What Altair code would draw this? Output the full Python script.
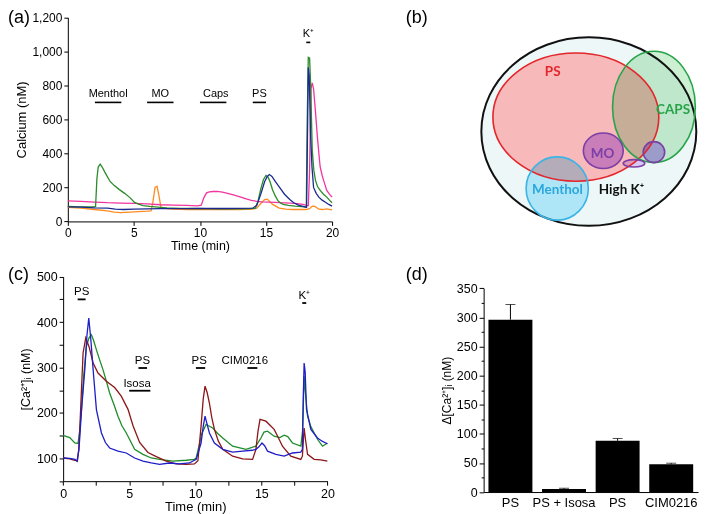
import altair as alt
import pandas as pd

# ---------------- Panel (a): calcium traces ----------------
a_t_green = [0, 0.5, 1.0, 1.5, 2.0, 2.1, 2.2, 2.3, 2.45, 2.6, 2.8, 3.0, 3.2, 3.5, 3.9, 4.3, 4.7, 5.05, 5.4, 5.7,
             6.2, 6.8, 7.5, 8.5, 9.5, 10.5, 11.5, 12.5, 13.5, 14.2, 14.4, 14.6, 14.8, 15.0, 15.15, 15.3, 15.5, 15.7,
             15.9, 16.1, 16.3, 16.7, 17.2, 17.7, 18.05, 18.12, 18.2, 18.3, 18.38, 18.5, 18.62, 18.75, 18.9, 19.1,
             19.35, 19.6, 19.8, 20.0]
a_v_green = [88, 87, 86, 86, 85, 88, 250, 320, 337, 320, 290, 262, 235, 212, 187, 165, 140, 112, 100, 93,
             88, 84, 80, 77, 76, 75, 74, 74, 74, 78, 120, 190, 245, 270, 262, 235, 185, 150,
             122, 108, 100, 94, 90, 87, 85, 600, 965, 960, 800, 420, 300, 240, 205, 182,
             160, 143, 125, 110]

a_t_blue = [0, 1, 2, 3, 3.6, 4.2, 5, 6, 7, 8, 9, 10, 11, 12, 13, 14.0, 14.3, 14.6, 14.9, 15.1, 15.25, 15.45,
            15.7, 16.0, 16.4, 16.8, 17.1, 17.45, 17.8, 18.07, 18.14, 18.2, 18.27, 18.37, 18.48, 18.6, 18.8, 19.0,
            19.25, 19.5, 19.75, 20.0]
a_v_blue = [86, 84, 80, 78, 72, 70, 72, 74, 75, 75, 75, 76, 76, 76, 77, 78, 95, 160, 235, 265, 276, 265,
            235, 203, 160, 129, 110, 96, 88, 82, 500, 906, 860, 515, 320, 200, 165, 143,
            125, 113, 100, 90]

a_t_pink = [0, 1, 2, 3, 4, 5, 6, 7, 8, 9, 9.8, 10.1, 10.3, 10.5, 10.7, 11.0, 11.3, 11.7, 12.1, 12.6, 13.15,
            13.5, 13.9, 14.3, 14.7, 15.2, 15.7, 16.4, 17.2, 17.8, 18.2, 18.3, 18.4, 18.5, 18.6, 18.75, 18.87,
            19.0, 19.1, 19.25, 19.4, 19.6, 19.8, 20.0]
a_v_pink = [121, 118, 114, 110, 108, 106, 103, 98, 96, 94, 92, 95, 140, 168, 174, 176, 177, 172, 165, 155, 141,
            132, 124, 118, 115, 114, 112, 109, 106, 100, 92, 300, 780, 815, 780, 640, 515,
            400, 320, 270, 231, 182, 160, 143]

a_t_orange = [0, 1, 2, 3, 3.5, 4, 5, 6, 6.3, 6.45, 6.6, 6.75, 6.9, 7.05, 7.5, 8, 9, 10, 11, 12, 13, 14, 14.3,
              14.6, 14.9, 15.1, 15.5, 16, 16.5, 17, 18, 18.3, 18.5, 18.7, 19.0, 19.3, 19.6, 20.0]
a_v_orange = [82, 78, 70, 62, 55, 52, 56, 60, 62, 120, 200, 207, 150, 82, 75, 72, 70, 70, 70, 70, 70, 72, 78,
              105, 128, 131, 100, 78, 72, 70, 70, 75, 90, 88, 72, 70, 74, 68]

a_stim_names = ["Menthol", "MO", "Caps", "PS", "K⁺"]
a_stim_start = [2.05, 6.0, 10.0, 14.0, 18.05]
a_stim_end = [4.05, 8.0, 12.0, 15.0, 18.35]
a_stim_label_t = [3.05, 7.0, 11.2, 14.5, 18.2]
a_stim_level = [700, 700, 700, 700, 1053]

# ---------------- Panel (b): Venn diagram ----------------
venn_sets = ["High K⁺", "PS", "Menthol", "CAPS", "MO", "MO link", "MO small"]
venn_cx = [0.0, -13.0, -31.7, 65.3, 14.5, 45.3, 65.3]
venn_cy = [0.0, 14.5, -57.1, 24.7, -19.3, -31.8, -20.6]
venn_rx = [107.8, 83.2, 31.2, 41.5, 20.0, 10.8, 10.8]
venn_ry = [94.5, 64.3, 31.7, 55.8, 17.8, 3.7, 10.5]

venn_labels = ["PS", "CAPS", "MO", "Menthol", "High K⁺"]
venn_label_x = [-36.2, 84.5, 13.8, -31.5, 32.8]
venn_label_y = [59.5, 21.2, -22.8, -58.8, -58.8]

# ---------------- Panel (c): calcium traces ----------------
c_t_blue = [0, 0.5, 0.9, 1.05, 1.2, 1.4, 1.64, 1.8, 1.94, 2.1, 2.27, 2.52, 2.9, 3.2, 3.52, 4.15, 4.78, 5.41,
            6.04, 6.67, 7.3, 8.05, 8.8, 9.56, 10.07, 10.44, 10.6, 10.74, 10.9, 11.07, 11.45, 12.08, 12.83, 13.59,
            14.3, 14.59, 14.8, 15.05, 15.25, 15.47, 16.1, 16.73, 17.36, 17.99, 18.11, 18.18, 18.24, 18.32, 18.42,
            18.75, 19.25, 19.6, 19.88, 20.0]
c_v_blue = [101, 100, 98, 94, 120, 210, 295, 370, 409, 360, 295, 207, 156, 135, 123, 116, 112, 101,
            94, 90, 87, 90, 88, 90, 98, 134, 170, 193, 175, 156, 134, 120, 114, 116,
            118, 120, 125, 134, 128, 116, 109, 105, 112, 114, 120, 240, 310, 290, 208,
            164, 145, 138, 134, 132]

c_t_green = [0, 0.5, 0.88, 1.13, 1.25, 1.39, 1.55, 1.76, 1.95, 2.14, 2.3, 2.52, 2.75, 3.02, 3.27, 3.52, 3.85,
             4.15, 4.45, 4.78, 5.1, 5.41, 6.04, 6.67, 7.3, 8.3, 9.31, 9.94, 10.07, 10.3, 10.5, 10.82, 11.0,
             11.32, 11.7, 12.08, 12.83, 13.84, 14.59, 14.97, 15.2, 15.47, 15.97, 16.4, 16.73, 17.0, 17.36,
             17.99, 18.12, 18.24, 18.32, 18.5, 18.75, 19.0, 19.3, 19.63, 20.0]
c_v_green = [151, 146, 134, 133, 160, 207, 280, 346, 365, 372, 360, 339, 318, 295, 270, 244, 218,
             193, 172, 156, 138, 120, 109, 101, 98, 94, 96, 98, 101, 130, 155, 175, 172,
             167, 155, 145, 127, 120, 127, 145, 158, 160, 149, 146, 151, 148, 134,
             127, 160, 281, 250, 193, 170, 156, 140, 127, 134]

c_t_red = [0, 0.5, 0.88, 1.08, 1.18, 1.26, 1.4, 1.51, 1.71, 1.96, 2.27, 2.64, 3.27, 3.9, 4.4, 4.91, 5.29, 5.79,
           6.42, 7.05, 7.8, 8.55, 9.31, 9.94, 10.2, 10.44, 10.6, 10.74, 10.9, 11.07, 11.25, 11.45, 11.75, 12.08,
           12.83, 13.59, 14.34, 14.59, 14.75, 14.9, 15.35, 15.97, 16.3, 16.6, 17.23, 17.99, 18.11, 18.24, 18.35,
           18.5, 19.0, 19.5, 20.0]
c_v_red = [101, 99, 96, 94, 120, 164, 260, 332, 365, 346, 310, 288, 270, 256, 237, 208, 172, 135,
           113, 104, 94, 88, 87, 88, 95, 171, 230, 259, 245, 222, 190, 164, 138, 120,
           105, 99, 98, 120, 160, 186, 182, 164, 145, 127, 105, 98, 105, 167, 140,
           109, 98, 97, 94]

c_stim_names = ["PS", "PS", "Isosa", "PS", "CIM0216", "K⁺"]
c_stim_start = [1.1, 5.7, 5.0, 10.05, 13.95, 18.1]
c_stim_end = [1.7, 6.35, 6.6, 10.75, 14.7, 18.4]
c_stim_label_t = [1.4, 6.0, 5.6, 10.3, 13.75, 18.25]
c_stim_level = [450, 299, 249, 299, 299, 442]

# ---------------- Panel (d): bar chart ----------------
d_keys = ["PS (1)", "PS + Isosa", "PS (2)", "CIM0216"]
d_vals = [296, 5, 88, 47.5]
d_errs = [26, 1.5, 4, 2]

# ================= chart construction =================
W, H = 690, 490
FONT = "Liberation Sans"


def df_tv(t, v):
    return pd.DataFrame({"t": t, "v": v})


def lin(domain, rng):
    return alt.Scale(domain=domain, range=rng, nice=False, zero=False)


layers = []

# ----- (b) Venn (drawn first, at the back)
def ellipse_path(k):
    c = 0.5523
    return (f"M 1 0 C 1 {c*k:.4f} {c} {k:.4f} 0 {k:.4f} C {-c} {k:.4f} -1 {c*k:.4f} -1 0 "
            f"C -1 {-c*k:.4f} {-c} {-k:.4f} 0 {-k:.4f} C {c} {-k:.4f} 1 {-c*k:.4f} 1 0 Z")


venn = pd.DataFrame({"set": venn_sets, "cx": venn_cx, "cy": venn_cy, "rx": venn_rx, "ry": venn_ry})
venn["path"] = [ellipse_path(ry / rx) for rx, ry in zip(venn.rx, venn.ry)]
venn["sz"] = (2 * venn.rx) ** 2

V_XD, V_XR = [-120, 120], [462.5, 702.5]
V_YD, V_YR = [-110, 110], [233.2, 13.2]


def venn_enc():
    return dict(
        x=alt.X("cx:Q", scale=lin(V_XD, V_XR), axis=None),
        y=alt.Y("cy:Q", scale=lin(V_YD, V_YR), axis=None),
        shape=alt.Shape("path:N", scale=None),
        size=alt.Size("sz:Q", scale=None),
    )


fill_range = ["#eef7f7", "#f7b9b9", "#bbedff", "#cdefd2", "#d0acff", "#e6d2ff", "#d0acff"]
stroke_range = ["#111111", "#e3262b", "#3ab4e6", "#27a44a", "#7b3fa6", "#7b3fa6", "#7b3fa6"]

normal_sets = ["High K⁺", "PS"]
mult_sets = ["Menthol", "CAPS", "MO", "MO link", "MO small"]

layers.append(alt.Chart(venn).transform_filter(alt.FieldOneOfPredicate(field="set", oneOf=normal_sets)).mark_point(
    filled=True, opacity=1, strokeOpacity=0).encode(
    fill=alt.Fill("set:N", scale=alt.Scale(domain=venn_sets, range=fill_range), legend=None), **venn_enc()))
layers.append(alt.Chart(venn).transform_filter(alt.FieldOneOfPredicate(field="set", oneOf=mult_sets)).mark_point(
    filled=True, opacity=1, strokeOpacity=0, blend="multiply").encode(
    fill=alt.Fill("set:N", scale=alt.Scale(domain=venn_sets, range=fill_range), legend=None), **venn_enc()))
layers.append(alt.Chart(venn).transform_filter(alt.FieldEqualPredicate(field="set", equal="High K⁺")).mark_point(
    filled=False, opacity=1, strokeWidth=2).encode(
    stroke=alt.Stroke("set:N", scale=alt.Scale(domain=venn_sets, range=stroke_range), legend=None), **venn_enc()))
layers.append(alt.Chart(venn).transform_filter("datum.set != 'High K⁺'").mark_point(
    filled=False, opacity=1, strokeWidth=1.6).encode(
    stroke=alt.Stroke("set:N", scale=alt.Scale(domain=venn_sets, range=stroke_range), legend=None), **venn_enc()))

venn_lab = pd.DataFrame({"label": venn_labels, "lx": venn_label_x, "ly": venn_label_y})
layers.append(alt.Chart(venn_lab).mark_text(font="Lato", fontWeight="bold", fontSize=13.5, baseline="middle").encode(
    x=alt.X("lx:Q", scale=lin(V_XD, V_XR), axis=None), y=alt.Y("ly:Q", scale=lin(V_YD, V_YR), axis=None),
    text="label:N",
    color=alt.Color("label:N", legend=None,
                    scale=alt.Scale(domain=venn_labels,
                                    range=["#e3262b", "#27a44a", "#7b3fa6", "#2aa7dd", "#111111"]))))

# ----- (a)
A_XD, A_XR = [0, 20], [60.0, 325.0]
A_YD, A_YR = [0, 1200], [213.3, 8.7]
a_xaxis = alt.Axis(orient="bottom", offset=213.3 - H, values=[0, 5, 10, 15, 20], title="Time (min)",
                   tickSize=4, labelPadding=2, titlePadding=1, labelFontSize=12, titleFontSize=12.5)
a_yaxis = alt.Axis(orient="left", offset=-60, values=list(range(0, 1201, 200)), format=",.0f",
                   title="Calcium (nM)", tickSize=4, labelPadding=2, titlePadding=3,
                   labelFontSize=12, titleFontSize=13)


def a_line(t, v, color, axes=False):
    return alt.Chart(df_tv(t, v)).mark_line(color=color, strokeWidth=1.3).encode(
        x=alt.X("t:Q", scale=lin(A_XD, A_XR), axis=a_xaxis if axes else None),
        y=alt.Y("v:Q", scale=lin(A_YD, A_YR), axis=a_yaxis if axes else None),
    )


layers += [
    a_line(a_t_orange, a_v_orange, "#ff8c1e", axes=True),
    a_line(a_t_pink, a_v_pink, "#f2359e"),
    a_line(a_t_green, a_v_green, "#2a8c2a"),
    a_line(a_t_blue, a_v_blue, "#1c2a8f"),
]
a_stim = pd.DataFrame({"name": a_stim_names, "start": a_stim_start, "end": a_stim_end,
                       "lt": a_stim_label_t, "level": a_stim_level})
layers.append(alt.Chart(a_stim).mark_rule(color="black", strokeWidth=1.6).encode(
    x=alt.X("start:Q", scale=lin(A_XD, A_XR), axis=None), x2="end:Q",
    y=alt.Y("level:Q", scale=lin(A_YD, A_YR), axis=None)))
layers.append(alt.Chart(a_stim).mark_text(font=FONT, fontSize=11, dy=-8, baseline="middle", color="black").encode(
    x=alt.X("lt:Q", scale=lin(A_XD, A_XR), axis=None), y=alt.Y("level:Q", scale=lin(A_YD, A_YR), axis=None),
    text="name:N"))

# ----- (c)
C_XD, C_XR = [0, 20], [55.3, 320.3]
C_YD, C_YR = [50, 500], [473.8, 268.7]
c_xaxis = alt.Axis(orient="bottom", offset=473.8 - H, values=[i * 2.5 for i in range(9)],
                   labelExpr="datum.value % 5 == 0 ? datum.label : ''", title="Time (min)",
                   tickSize=4, labelPadding=2, titlePadding=1, labelFontSize=12.5, titleFontSize=13)
c_yaxis = alt.Axis(orient="left", offset=-55.3, values=list(range(50, 501, 50)),
                   labelExpr="datum.value % 100 == 0 ? datum.label : ''", title="[Ca²⁺]ᵢ (nM)",
                   tickSize=4, labelPadding=2, titlePadding=4, labelFontSize=12.5, titleFontSize=12.5)


def c_line(t, v, color, axes=False):
    return alt.Chart(df_tv(t, v)).mark_line(color=color, strokeWidth=1.3).encode(
        x=alt.X("t:Q", scale=lin(C_XD, C_XR), axis=c_xaxis if axes else None),
        y=alt.Y("v:Q", scale=lin(C_YD, C_YR), axis=c_yaxis if axes else None),
    )


layers += [
    c_line(c_t_green, c_v_green, "#1f8c2a", axes=True),
    c_line(c_t_red, c_v_red, "#8c1616"),
    c_line(c_t_blue, c_v_blue, "#1e1ec8"),
]
c_stim = pd.DataFrame({"name": c_stim_names, "start": c_stim_start, "end": c_stim_end,
                       "lt": c_stim_label_t, "level": c_stim_level})
layers.append(alt.Chart(c_stim).mark_rule(color="black", strokeWidth=1.8).encode(
    x=alt.X("start:Q", scale=lin(C_XD, C_XR), axis=None), x2="end:Q",
    y=alt.Y("level:Q", scale=lin(C_YD, C_YR), axis=None)))
layers.append(alt.Chart(c_stim).mark_text(font=FONT, fontSize=11.5, dy=-7, baseline="middle", color="black").encode(
    x=alt.X("lt:Q", scale=lin(C_XD, C_XR), axis=None), y=alt.Y("level:Q", scale=lin(C_YD, C_YR), axis=None),
    text="name:N"))

# ----- (d)
D_XR = [477.0, 692.0]
D_YD, D_YR = [0, 350], [484.7, 280.3]


def d_band():
    return alt.Scale(domain=d_keys, range=D_XR, paddingInner=0.18, paddingOuter=0.09)


d_xaxis = alt.Axis(orient="bottom", offset=484.7 - H, title=None, ticks=False, labelPadding=5,
                   labelFontSize=13, labelAngle=0, labelExpr="split(datum.label, ' (')[0]")
d_yaxis = alt.Axis(orient="left", offset=-477, values=list(range(0, 351, 50)), title="Δ[Ca²⁺]ᵢ (nM)",
                   tickSize=4.5, labelPadding=2, titlePadding=3, labelFontSize=12.5, titleFontSize=12)

d_df = pd.DataFrame({"key": d_keys, "v": d_vals, "err": d_errs})
d_df["top"] = d_df.v + d_df.err

layers.append(alt.Chart(d_df).mark_bar(color="black").encode(
    x=alt.X("key:N", scale=d_band(), sort=None, axis=d_xaxis),
    y=alt.Y("v:Q", scale=lin(D_YD, D_YR), axis=d_yaxis)))
layers.append(alt.Chart(d_df).mark_rule(color="black", strokeWidth=1).encode(
    x=alt.X("key:N", scale=d_band(), sort=None, axis=None),
    y=alt.Y("v:Q", scale=lin(D_YD, D_YR), axis=None), y2="top:Q"))
layers.append(alt.Chart(d_df).mark_tick(color="black", thickness=1, size=10).encode(
    x=alt.X("key:N", scale=d_band(), sort=None, axis=None),
    y=alt.Y("top:Q", scale=lin(D_YD, D_YR), axis=None)))
layers.append(alt.Chart(d_df).mark_point(opacity=0).encode(
    y=alt.Y("v:Q", scale=lin(D_YD, D_YR),
            axis=alt.Axis(orient="left", offset=-477, values=list(range(25, 350, 50)), labels=False,
                          domain=False, tickSize=2.5, title=None))))


# ----- panel letters
def letter(txt, x, y):
    return alt.Chart(pd.DataFrame({"l": [txt]})).mark_text(
        font=FONT, fontSize=18, align="left", baseline="top", color="black").encode(
        text="l:N", x=alt.value(x), y=alt.value(y))


layers += [letter("(a)", 0, 0), letter("(b)", 399, 0), letter("(c)", 0, 258), letter("(d)", 399, 258)]

chart = alt.layer(*layers).resolve_scale(
    x="independent", y="independent", color="independent", fill="independent",
    stroke="independent", shape="independent", size="independent",
).resolve_axis(x="independent", y="independent").properties(
    width=W, height=H, padding=0,
).configure_view(stroke=None).configure_axis(
    labelFont=FONT, titleFont=FONT, labelColor="black", titleColor="black", tickColor="black",
    domainColor="black", grid=False, titleFontWeight="normal", domainWidth=1, tickWidth=1,
    labelFlush=False, labelOverlap=False,
)

chart.save("out.html", embed_options={"renderer": "svg", "actions": False})
